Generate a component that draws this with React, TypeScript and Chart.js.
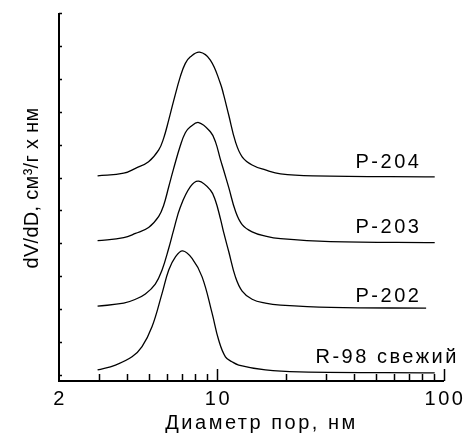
import { useEffect, useRef } from "react";
import { Chart, registerables } from "chart.js";

Chart.register(...registerables);

// ---- data ----
const r98X = [2.96, 3.55, 4.2, 4.65, 5.15, 5.7, 6.1, 6.53, 7.03, 7.73, 8.56, 9.48, 10.13, 10.85, 11.6, 12.42, 16.3, 23, 91];
const r98Y = [0.15, 0.3, 0.55, 0.86, 1.47, 2.48, 3.19, 3.59, 3.77, 3.54, 2.98, 1.87, 1.06, 0.55, 0.4, 0.3, 0.15, 0.09, 0.06];

const p202X = [2.96, 3.86, 4.35, 4.81, 5.32, 5.7, 6.1, 6.41, 6.87, 7.6, 8.27, 9.31, 9.8, 10.31, 10.66, 11.22, 12.01, 12.86, 14.23, 16.29, 19, 31.5, 83.4];
const p202Y = [2.09, 2.18, 2.3, 2.46, 2.76, 3.19, 3.85, 4.4, 5.11, 5.72, 5.89, 5.62, 5.3, 4.75, 4.33, 3.75, 2.98, 2.55, 2.3, 2.18, 2.12, 2.05, 2.03];

const p203X = [2.96, 3.86, 4.35, 4.97, 5.51, 5.79, 6.1, 6.41, 6.87, 7.22, 7.6, 8.27, 9.31, 9.8, 10.31, 10.66, 11.22, 12.01, 12.86, 14.23, 16.29, 19, 31.5, 91];
const p203Y = [4.08, 4.17, 4.3, 4.48, 4.82, 5.15, 5.72, 6.27, 6.98, 7.36, 7.54, 7.67, 7.39, 7.09, 6.55, 6.22, 5.7, 4.98, 4.57, 4.35, 4.22, 4.14, 4.05, 4.02];

const p204X = [2.96, 3.86, 4.35, 4.97, 5.51, 5.79, 6.1, 6.41, 6.87, 7.22, 7.6, 8.35, 9.31, 10.31, 10.66, 11.22, 12.01, 12.86, 14.23, 16.29, 19, 26.5, 91];
const p204Y = [6.05, 6.13, 6.28, 6.48, 6.84, 7.19, 7.75, 8.33, 9.08, 9.47, 9.67, 9.81, 9.57, 8.86, 8.51, 7.9, 7.09, 6.63, 6.38, 6.23, 6.11, 6.05, 6.02];

const seriesNames = ["R-98 свежий", "P-202", "P-203", "P-204"];
const xTickLabels = [2, 10, 100];
const xMajorTicks = [10, 100];
const xMinorTicks = [3, 4, 5, 6, 7, 8, 9, 20, 30, 40, 50, 60, 70, 80, 90];
const yTicks = [0, 1, 2, 3, 4, 5, 6, 7, 8, 9, 10, 11];
const xTitle = "Диаметр пор, нм";
const yTitle = "dV/dD, см³/г x нм";

// label anchors in data coordinates (left edge, baseline)
const labelAnchors = [
  { x: 27.1, y: 0.36 },
  { x: 40.7, y: 2.22 },
  { x: 40.7, y: 4.31 },
  { x: 40.7, y: 6.29 },
];

const toPoints = (xs: number[], ys: number[]) => xs.map((x, i) => ({ x, y: ys[i] }));

const FONT = '20px "Liberation Sans", Arial, sans-serif';

const axesPlugin = {
  id: "axesPlugin",
  afterDraw(chart: any) {
    const { ctx, chartArea: a } = chart;
    const xs = chart.scales.x;
    const ys = chart.scales.y;
    ctx.save();
    ctx.strokeStyle = "#000";
    ctx.lineWidth = 2;
    ctx.beginPath();
    ctx.moveTo(a.left, a.top);
    ctx.lineTo(a.left, a.bottom);
    ctx.lineTo(a.right, a.bottom);
    ctx.stroke();

    ctx.lineWidth = 1.5;
    ctx.beginPath();
    for (const v of xMinorTicks) {
      const px = Math.round(xs.getPixelForValue(v)) + 0.5;
      ctx.moveTo(px, a.bottom);
      ctx.lineTo(px, a.bottom - 7);
    }
    for (const v of xMajorTicks) {
      const px = Math.round(xs.getPixelForValue(v)) + 0.5;
      ctx.moveTo(px, a.bottom);
      ctx.lineTo(px, a.bottom - 12);
    }
    for (const v of yTicks) {
      const py = Math.round(ys.getPixelForValue(v)) + 0.5;
      ctx.moveTo(a.left, py);
      ctx.lineTo(a.left + 3, py);
    }
    ctx.stroke();

    ctx.fillStyle = "#000";
    ctx.font = FONT;
    ctx.letterSpacing = "2.5px";
    ctx.textBaseline = "alphabetic";
    ctx.textAlign = "center";
    for (const v of xTickLabels) {
      ctx.fillText(String(v), xs.getPixelForValue(v) + 1, a.bottom + 24);
    }
    ctx.fillText(xTitle, (a.left + a.right) / 2 + 10, a.bottom + 48);

    ctx.textAlign = "left";
    seriesNames.forEach((name, i) => {
      const an = labelAnchors[i];
      ctx.fillText(name, xs.getPixelForValue(an.x), ys.getPixelForValue(an.y));
    });

    ctx.save();
    ctx.letterSpacing = "0.3px";
    ctx.translate(38, (a.top + a.bottom) / 2 - 9);
    ctx.rotate(-Math.PI / 2);
    ctx.textAlign = "center";
    ctx.fillText(yTitle, 0, 0);
    ctx.restore();

    ctx.restore();
  },
};

export default function App() {
  const ref = useRef<HTMLCanvasElement | null>(null);

  useEffect(() => {
    document.body.style.margin = "0";
    if (!ref.current) return;
    const mk = (label: string, xs: number[], ys: number[]) => ({
      label,
      data: toPoints(xs, ys),
      borderColor: "#000",
      borderWidth: 1.3,
      pointRadius: 0,
      fill: false,
      tension: 0.4,
    });
    const chart = new Chart(ref.current, {
      type: "line",
      data: {
        datasets: [
          mk(seriesNames[0], r98X, r98Y),
          mk(seriesNames[1], p202X, p202Y),
          mk(seriesNames[2], p203X, p203Y),
          mk(seriesNames[3], p204X, p204Y),
        ],
      },
      options: {
        animation: false,
        responsive: false,
        devicePixelRatio: 1,
        layout: { padding: { left: 59, right: 21, top: 13, bottom: 58 } },
        plugins: { legend: { display: false }, tooltip: { enabled: false } },
        scales: {
          x: { type: "logarithmic", min: 2, max: 100, display: false },
          y: { type: "linear", min: -0.185, max: 11, display: false },
        },
      },
      plugins: [axesPlugin],
    });
    return () => chart.destroy();
  }, []);

  return <canvas ref={ref} width={465} height={439} style={{ display: "block" }} />;
}
